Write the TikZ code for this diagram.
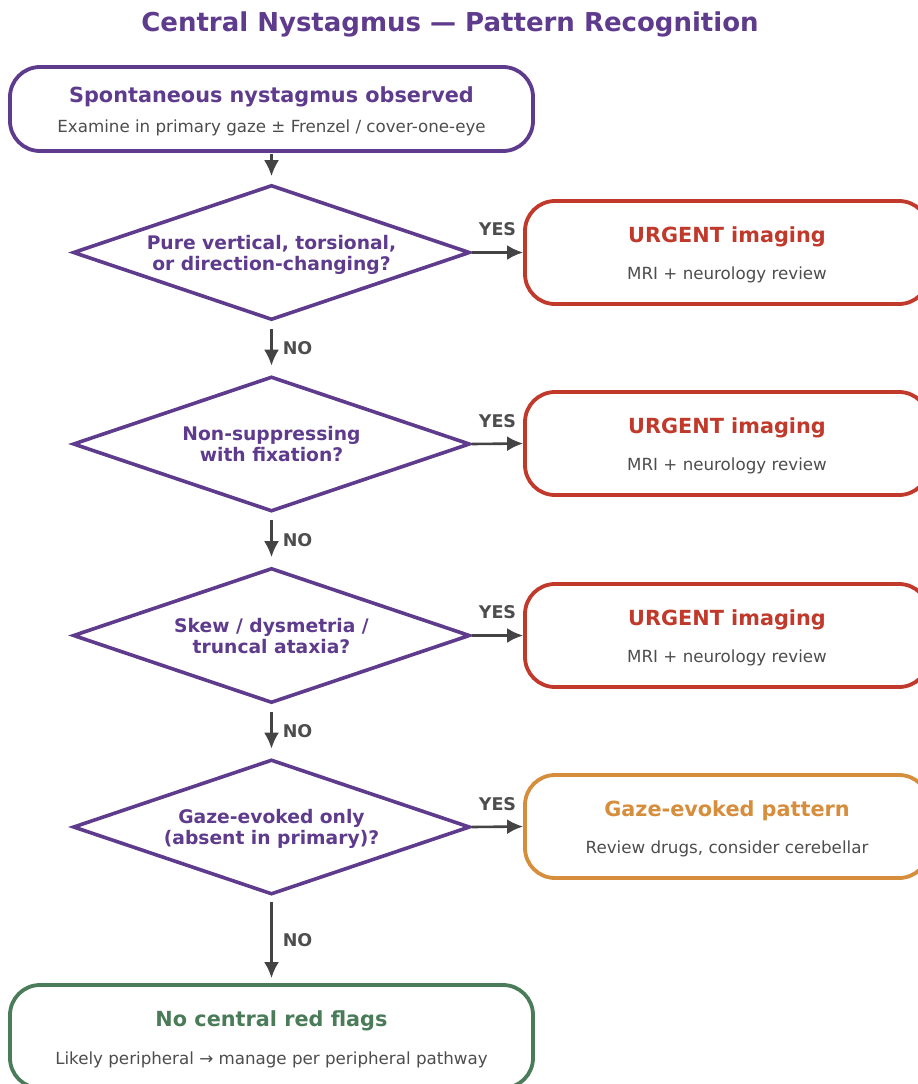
\documentclass[tikz,border=0pt]{standalone}
\usepackage{fontspec}
\setmainfont{DejaVu Sans}
\usetikzlibrary{shapes.geometric,arrows.meta}
\definecolor{nyspurple}{HTML}{5E3B8C}
\definecolor{nysred}{HTML}{C0392B}
\definecolor{nysorange}{HTML}{D68D3C}
\definecolor{nysgreen}{HTML}{4A7C59}
\definecolor{nysgray}{HTML}{444444}
\definecolor{nystext}{HTML}{4D4D4D}
\newcommand{\fsz}[2]{\fontsize{#1}{#2}\selectfont}
\tikzset{
  pill/.style={draw=#1, line width=3.8pt, rounded corners=30pt, fill=white, inner sep=0pt},
  query/.style={diamond, aspect=2.94, draw=nyspurple, line width=3.6pt, minimum width=397pt, minimum height=135pt,
    inner sep=0pt, text depth=0pt, align=center, text=nyspurple, font=\fsz{18.7}{21}\bfseries},
  head/.style={inner sep=0pt, font=\fsz{20.8}{24}\bfseries, text=#1},
  sub/.style={inner sep=0pt, font=\fsz{16.7}{19}, text=nystext},
  flow/.style={->, draw=nysgray, line width=2.6pt},
  ans/.style={inner sep=0pt, font=\fsz{17.5}{20}\bfseries, text=nystext}
}
\begin{document}
\begin{tikzpicture}[x=1pt,y=-1pt,>={Latex[length=16pt,width=15pt]}]
  \useasboundingbox (0,0) rectangle (918,1084);
  \node[inner sep=0pt, font=\fsz{26}{30}\bfseries, text=nyspurple] (title) at (450,24) {Central Nystagmus — Pattern Recognition};

  % start
  \node[pill=nyspurple, minimum width=523pt, minimum height=84pt] (start) at (271.5,109) {};
  \node[head=nyspurple] (starthead) at (271.5,97) {Spontaneous nystagmus observed};
  \node[sub] (startsub) at (271.5,128) {Examine in primary gaze ± Frenzel / cover-one-eye};

  % questions
  \node[query] (q1) at (271.5,252.5) {Pure vertical, torsional,\\or direction-changing?};
  \node[query] (q2) at (271.5,444) {Non-suppressing\\with fixation?};
  \node[query] (q3) at (271.5,635.5) {Skew / dysmetria /\\truncal ataxia?};
  \node[query] (q4) at (271.5,827) {Gaze-evoked only\\(absent in primary)?};

  % outcomes
  \foreach \n/\y in {1/252.5,2/443.5,3/635.5}{
    \node[pill=nysred, minimum width=404pt, minimum height=103pt] (r\n) at (727,\y) {};
    \node[head=nysred] (r\n head) at (727,\y-15.5) {URGENT imaging};
    \node[sub] (r\n sub) at (727,\y+22.5) {MRI + neurology review};
  }
  \node[pill=nysorange, minimum width=404pt, minimum height=103pt] (r4) at (727,826.5) {};
  \node[head=nysorange] (r4head) at (727,811) {Gaze-evoked pattern};
  \node[sub] (r4sub) at (727,849) {Review drugs, consider cerebellar};

  \node[pill=nysgreen, minimum width=523pt, minimum height=103pt] (done) at (271.5,1036.5) {};
  \node[head=nysgreen] (donehead) at (271.5,1021) {No central red flags};
  \node[sub] (donesub) at (271.5,1060) {Likely peripheral → manage per peripheral pathway};

  % arrows
  \draw[flow, shorten <=1pt, shorten >=7pt] (start) -- (q1);
  \foreach \a/\b in {q1/q2,q2/q3,q3/q4}
    \draw[flow, shorten <=7pt, shorten >=9pt] (\a) -- node[ans, right=10pt] {NO} (\b);
  \draw[flow, shorten <=6pt, shorten >=5pt] (q4) -- node[ans, right=10pt] {NO} (done);
  \foreach \i in {1,...,4}
    \draw[flow] (q\i.east) -- node[ans, above=15pt] {YES} (r\i.west);
\end{tikzpicture}
\end{document}
